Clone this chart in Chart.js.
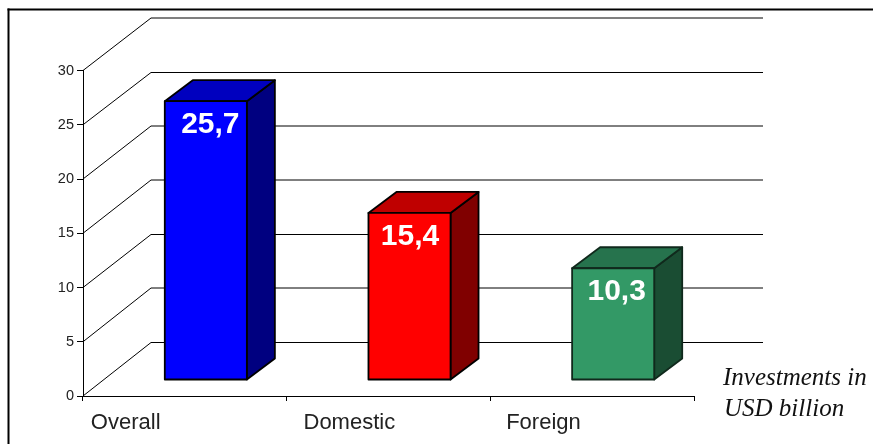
<!DOCTYPE html>
<html>
<head>
<meta charset="utf-8">
<title>Investments</title>
<script src="https://cdn.jsdelivr.net/npm/chart.js@4"></script>
<style>
body { margin: 0; background: #fff; }
canvas { display: block; }
</style>
</head>
<body>
<canvas id="grafico" width="873" height="444"></canvas>
<script>
// data
var categories = ['Overall', 'Domestic', 'Foreign'];
var values = [25.7, 15.4, 10.3];
var valueLabels = ['25,7', '15,4', '10,3'];
var frontColors = ['#0000ff', '#ff0000', '#339966'];
var topColors = ['#0000bf', '#bf0000', '#26734d'];
var sideColors = ['#000080', '#800000', '#1a4d33'];
var borderColors = ['#000000', '#000000', '#10291c'];
var yTicks = [0, 5, 10, 15, 20, 25, 30];
var softLines = [30, 20, 15, 5]; // these come out grey in the original

// 3d look
var wallX = 68, wallBottom = 342, wallScale = 54 / 54.25, wallRight = 763;
var barShiftX = 21, barShiftY = 16;
var depthX = 28, depthY = 21;
var categoryNudge = [-94, -85, -86];
var labelNudge = [4.5, 0.5, 3.5];

var wall3d = {
  id: 'wall3d',
  beforeDatasetsDraw: function(chart) {
    var ctx = chart.ctx;
    var y = chart.scales.y;
    var x0 = chart.chartArea.left;
    var y0 = chart.chartArea.bottom;
    ctx.save();
    // frame of the picture
    ctx.fillStyle = '#000';
    ctx.fillRect(7.5, 8.5, 2, 436);
    ctx.fillRect(7.5, 8.5, 866, 2);
    // side wall and back wall
    ctx.lineWidth = 1;
    ctx.strokeStyle = '#000';
    yTicks.forEach(function(v) {
      var py = y.getPixelForValue(v);
      var back = Math.round(wallBottom - (y0 - py) * wallScale) + (softLines.indexOf(v) >= 0 ? 0 : 0.5);
      ctx.beginPath();
      ctx.moveTo(x0, py);
      ctx.lineTo(x0 + wallX, back);
      ctx.lineTo(wallRight, back);
      ctx.stroke();
    });
    ctx.restore();
  },
  beforeDatasetDraw: function(chart, args) {
    var ctx = chart.ctx;
    ctx.save();
    ctx.translate(barShiftX, -barShiftY);
    args.meta.data.forEach(function(bar, i) {
      var l = bar.x - bar.width / 2, r = bar.x + bar.width / 2;
      ctx.strokeStyle = borderColors[i];
      ctx.lineWidth = 1.8;
      ctx.lineJoin = 'round';
      ctx.fillStyle = sideColors[i];
      ctx.beginPath();
      ctx.moveTo(r, bar.y);
      ctx.lineTo(r + depthX, bar.y - depthY);
      ctx.lineTo(r + depthX, bar.base - depthY);
      ctx.lineTo(r, bar.base);
      ctx.closePath();
      ctx.fill();
      ctx.stroke();
      ctx.fillStyle = topColors[i];
      ctx.beginPath();
      ctx.moveTo(l, bar.y);
      ctx.lineTo(l + depthX, bar.y - depthY);
      ctx.lineTo(r + depthX, bar.y - depthY);
      ctx.lineTo(r, bar.y);
      ctx.closePath();
      ctx.fill();
      ctx.stroke();
    });
  },
  afterDatasetDraw: function(chart, args) {
    var ctx = chart.ctx;
    ctx.textAlign = 'center';
    ctx.textBaseline = 'alphabetic';
    ctx.font = 'bold 30px "Liberation Sans"';
    args.meta.data.forEach(function(bar, i) {
      ctx.strokeStyle = borderColors[i];
      ctx.lineWidth = 1.8;
      ctx.strokeRect(bar.x - bar.width / 2, bar.y, bar.width, bar.base - bar.y);
      ctx.fillStyle = '#fff';
      ctx.fillText(valueLabels[i], bar.x + labelNudge[i], bar.y + 32);
    });
    ctx.restore();
  },
  afterDraw: function(chart) {
    var ctx = chart.ctx;
    var x = chart.scales.x;
    ctx.save();
    ctx.fillStyle = '#222';
    ctx.textAlign = 'left';
    ctx.textBaseline = 'alphabetic';
    ctx.font = '22px "Liberation Sans"';
    categories.forEach(function(c, i) {
      ctx.fillText(c, x.getPixelForValue(i) + categoryNudge[i], 429);
    });
    ctx.fillStyle = '#111';
    ctx.font = 'italic 25px "Liberation Serif"';
    ctx.fillText('Investments in', 723, 385);
    ctx.fillText('USD billion', 724, 416);
    ctx.restore();
  }
};

var myChart = new Chart(document.getElementById('grafico'), {
  type: 'bar',
  data: {
    labels: categories,
    datasets: [{
      data: values,
      backgroundColor: frontColors,
      borderWidth: 0,
      categoryPercentage: 1,
      barPercentage: 0.403,
      clip: false
    }]
  },
  options: {
    responsive: false,
    animation: false,
    events: [],
    layout: { padding: { left: 0, top: 70.5, right: 179, bottom: 48 } },
    plugins: {
      legend: { display: false },
      title: { display: false },
      tooltip: { enabled: false }
    },
    scales: {
      x: {
        afterFit: function(s) { s.height = 0; },
        ticks: { display: false },
        border: { color: '#000', width: 1 },
        grid: { drawOnChartArea: false, color: '#000', tickLength: 5 }
      },
      y: {
        min: 0,
        max: 30,
        afterFit: function(s) { s.width = 83; },
        afterBuildTicks: function(s) {
          s.ticks = yTicks.map(function(v) { return { value: v }; });
        },
        ticks: {
          color: '#222',
          padding: 3,
          font: { family: '"Liberation Sans"', size: 14.5 },
          callback: function(v) { return v; }
        },
        border: { color: '#000', width: 1 },
        grid: { drawOnChartArea: false, color: '#000', tickLength: 6 }
      }
    }
  },
  plugins: [wall3d]
});
</script>
</body>
</html>
